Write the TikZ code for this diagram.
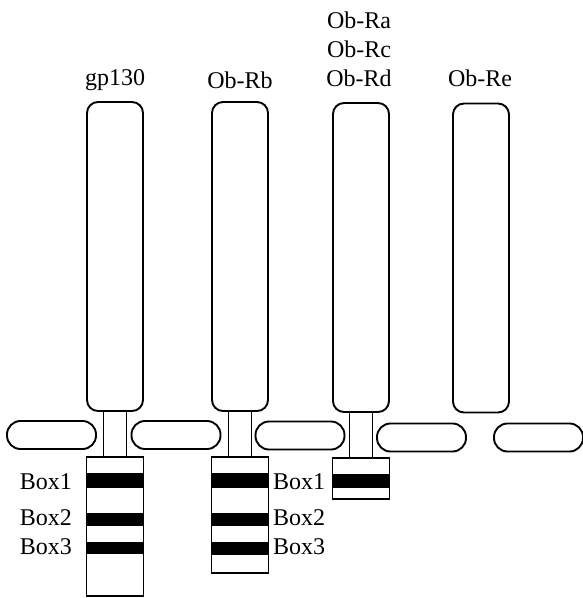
\documentclass[tikz,border=0pt]{standalone}
\usepackage{fontspec}
\setmainfont{Liberation Serif}
\begin{document}
\begin{tikzpicture}[x=1pt,y=-1pt,
  lw/.style={line width=1.9pt},
  ext/.style={lw,draw,rounded corners=11pt,minimum width=56pt,minimum height=309pt,inner sep=0pt},
  memb/.style={lw,draw,rounded corners=13.5pt,minimum width=89pt,minimum height=28pt,inner sep=0pt},
  cyto/.style={lw,draw,minimum width=57pt,inner sep=0pt},
  band/.style={fill=black,draw=none,minimum width=57pt,inner sep=0pt},
  lab/.style={font=\fontsize{24}{27}\selectfont,inner sep=0pt}]
\useasboundingbox (0,0) rectangle (583,598);
% membrane segments
\node[memb] (m1) at (51.5,435) {};
\node[memb] (m2) at (176,435) {};
\node[memb] (m3) at (300,435.5) {};
\node[memb] (m4) at (421.5,437.5) {};
\node[memb] (m5) at (538.5,437.5) {};
% extracellular domains
\node[ext] (e1) at (115,256.5) {};
\node[ext] (e2) at (240,256.5) {};
\node[ext] (e3) at (361,257.5) {};
\node[ext] (e4) at (481,258) {};
% cytoplasmic boxes
\node[cyto,minimum height=139pt] (c1) at (115,526.5) {};
\node[cyto,minimum height=116pt] (c2) at (240,515) {};
\node[cyto,minimum height=41pt] (c3) at (361,478.5) {};
% stems
\draw[lw] ([xshift=-11.5pt]e1.south) -- ([xshift=-11.5pt]c1.north);
\draw[lw] ([xshift=11.5pt]e1.south) -- ([xshift=11.5pt]c1.north);
\draw[lw] ([xshift=-11.5pt]e2.south) -- ([xshift=-11.5pt]c2.north);
\draw[lw] ([xshift=11.5pt]e2.south) -- ([xshift=11.5pt]c2.north);
\draw[lw] ([xshift=-11.5pt]e3.south) -- ([xshift=-11.5pt]c3.north);
\draw[lw] ([xshift=11.5pt]e3.south) -- ([xshift=11.5pt]c3.north);
% bands
\node[band,minimum height=15pt] (b11) at (115,480.5) {};
\node[band,minimum height=13pt] (b12) at (115,519.5) {};
\node[band,minimum height=12pt] (b13) at (115,548) {};
\node[band,minimum height=15pt] (b21) at (240,480.5) {};
\node[band,minimum height=13pt] (b22) at (240,519.5) {};
\node[band,minimum height=13pt] (b23) at (240,548.5) {};
\node[band,minimum height=14pt] (b31) at (361,481) {};
% labels
\node[lab] (l1) at (115,80) {gp130};
\node[lab] (l2) at (240,80) {Ob-Rb};
\node[lab] (l3a) at (359,20) {Ob-Ra};
\node[lab] (l3b) at (359,49) {Ob-Rc};
\node[lab] (l3c) at (359,78) {Ob-Rd};
\node[lab] (l4) at (480,78) {Ob-Re};
\node[lab,anchor=east] (x1) at (72,482) {Box1};
\node[lab,anchor=east] (x2) at (72,518) {Box2};
\node[lab,anchor=east] (x3) at (72,547) {Box3};
\node[lab,anchor=west] (y1) at (273,482) {Box1};
\node[lab,anchor=west] (y2) at (273,518) {Box2};
\node[lab,anchor=west] (y3) at (273,547) {Box3};
\end{tikzpicture}
\end{document}
